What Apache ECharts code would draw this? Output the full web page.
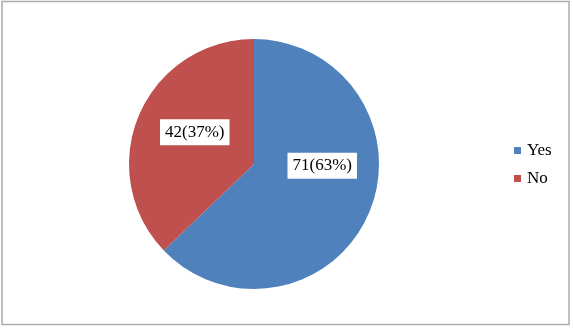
<!DOCTYPE html>
<html>
<head>
<meta charset="utf-8">
<script src="https://cdn.jsdelivr.net/npm/echarts@6/dist/echarts.min.js"></script>
<style>
html,body{margin:0;padding:0;background:#fff;}
#chart{width:573px;height:329px;}
</style>
</head>
<body>
<div id="chart"></div>
<script>
const categories = ['Yes', 'No'];
const values = [71, 42];
const percents = [63, 37];
const colors = ['#4F81BD', '#C0504D'];

const labelOffsets = [[8, -24], [1, -6]];

const chart = echarts.init(document.getElementById('chart'));
const data = categories.map((c, i) => ({
  name: c,
  value: values[i],
  itemStyle: { color: colors[i] },
  label: { offset: labelOffsets[i] }
}));

chart.setOption({
  animation: false,
  backgroundColor: '#fff',
  graphic: [{
    type: 'rect',
    shape: { x: 2, y: 1.5, width: 567, height: 323 },
    style: { fill: 'none', stroke: '#ababab', lineWidth: 1.5 },
    silent: true
  }],
  legend: {
    orient: 'vertical',
    left: 509,
    top: 137,
    icon: 'rect',
    itemWidth: 7,
    itemHeight: 7,
    itemGap: 11,
    textStyle: { fontFamily: 'Liberation Serif', fontSize: 17, color: '#000', padding: [0, 0, 0, 1] },
    data: categories
  },
  series: [{
    type: 'pie',
    center: [254, 164],
    radius: [0, 125],
    startAngle: 90,
    clockwise: true,
    data: data,
    itemStyle: { borderColor: '#fff', borderWidth: 0 },
    label: {
      show: true,
      position: 'inside',
      formatter: (p) => p.value + '(' + percents[p.dataIndex] + '%)',
      fontFamily: 'Liberation Serif',
      fontSize: 17,
      color: '#000',
      backgroundColor: '#fff',
      padding: [5, 5, 4, 5]
    },
    labelLine: { show: false },
    emphasis: { disabled: true }
  }]
});
</script>
</body>
</html>
